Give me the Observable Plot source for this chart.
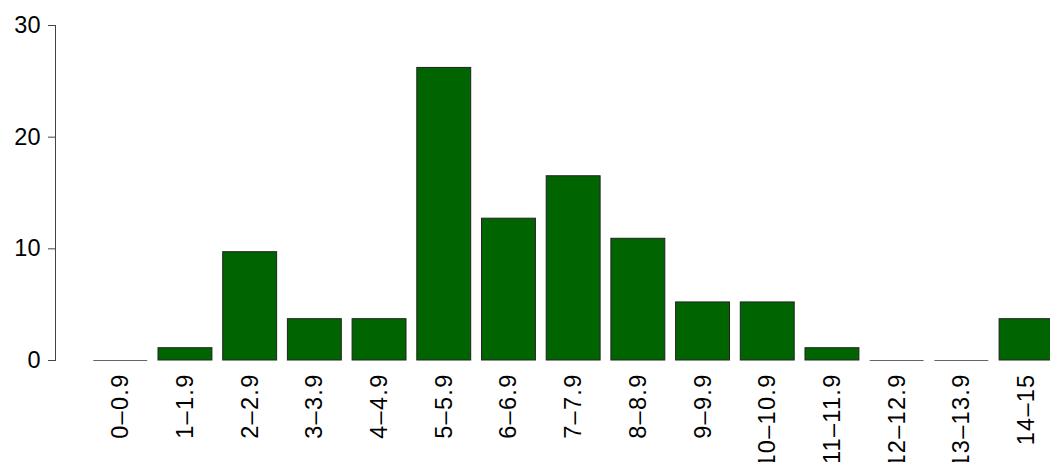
<!DOCTYPE html>
<html>
<head>
<meta charset="utf-8">
<script src="https://cdn.jsdelivr.net/npm/d3@7"></script>
<script src="https://cdn.jsdelivr.net/npm/@observablehq/plot@0.6"></script>
<style>
  html, body { margin: 0; padding: 0; background: #fff; overflow: hidden; }
  #chart svg { display: block; overflow: hidden; }
  #chart g[aria-label="x-axis tick label"] text { letter-spacing: 1.3px; }
</style>
</head>
<body>
<div id="chart"></div>
<script>
const categories = ["0–0.9","1–1.9","2–2.9","3–3.9","4–4.9","5–5.9","6–6.9","7–7.9","8–8.9","9–9.9","10–10.9","11–11.9","12–12.9","13–13.9","14–15"];
const values = [0, 1.1, 9.7, 3.7, 3.7, 26.2, 12.7, 16.5, 10.9, 5.2, 5.2, 1.1, 0, 0, 3.7];
const yTicks = [0, 10, 20, 30];

const data = categories.map((c, i) => ({category: c, value: values[i]}));

const chart = Plot.plot({
  width: 1050,
  height: 462,
  marginTop: 25,
  marginBottom: 102,
  marginLeft: 55,
  marginRight: 0,
  style: {fontFamily: "'Liberation Sans', Arial, sans-serif", fontSize: "23px", color: "#000", background: "#fff"},
  x: {type: "band", domain: categories, range: [93.3, 1053], paddingInner: 0.2 / 1.2, paddingOuter: 0, round: false},
  y: {domain: [0, 30]},
  marks: [
    Plot.frame({anchor: "left", stroke: "#444", strokeOpacity: 1}),
    Plot.axisY({ticks: yTicks, tickSize: 7, tickPadding: 8, stroke: "#444", fontSize: 23.5, label: null}),
    Plot.axisX({tickSize: 0, tickPadding: 13, tickRotate: -90, fontSize: 23.5, label: null}),
    Plot.barY(data.filter(d => d.value > 0), {x: "category", y: "value", fill: "#006400", stroke: "#222", strokeWidth: 1, inset: 0}),
    Plot.tickY(data.filter(d => d.value === 0), {x: "category", y: "value", stroke: "#666", strokeWidth: 1.2})
  ]
});
document.getElementById("chart").appendChild(chart);
</script>
</body>
</html>
